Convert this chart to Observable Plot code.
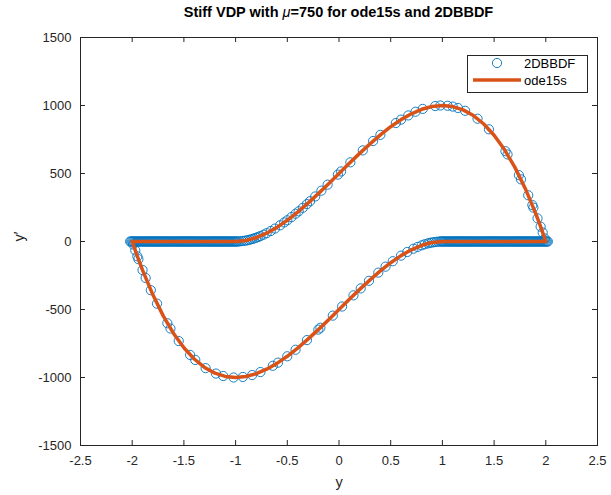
<!DOCTYPE html>
<html><head><meta charset="utf-8">
<script src="https://cdn.jsdelivr.net/npm/d3@7"></script>
<script src="https://cdn.jsdelivr.net/npm/@observablehq/plot@0.6"></script>
<style>
body{margin:0;background:#fff;}
#wrap{position:relative;width:611px;height:495px;font-family:"Liberation Sans",Arial,sans-serif;}
#title{position:absolute;left:80px;width:517px;top:4px;text-align:center;font-weight:bold;font-size:14.5px;color:#000;}
#title i{font-weight:normal;}
#legend{position:absolute;left:467px;top:55px;width:119px;height:36px;border:1px solid #262626;background:#fff;}
#legend svg{display:block;}
</style></head><body>
<div id="wrap"><div id="chart"></div>
<div id="title">Stiff VDP with <i>μ</i>=750 for ode15s and 2DBBDF</div>
<div id="legend"></div>
</div>
<script>
// tick labels
const xTicks = [-2.5,-2,-1.5,-1,-0.5,0,0.5,1,1.5,2,2.5];
const yTicks = [-1500,-1000,-500,0,500,1000,1500];
const seriesNames = ["2DBBDF","ode15s"];

// 2DBBDF markers: slow (flat) segments, y' ~ 0
const flatLeftY = [-2.02,-2.01,-2.00,-1.99,-1.98,-1.97,-1.96,-1.95,-1.94,-1.93,-1.92,-1.91,-1.90,-1.89,-1.88,-1.87,-1.86,-1.85,-1.84,-1.83,-1.82,-1.81,-1.80,-1.79,-1.78,-1.77,-1.76,-1.75,-1.74,-1.73,-1.72,-1.71,-1.70,-1.69,-1.68,-1.67,-1.66,-1.65,-1.64,-1.63,-1.62,-1.61,-1.60,-1.59,-1.58,-1.57,-1.56,-1.55,-1.54,-1.53,-1.52,-1.51,-1.50,-1.49,-1.48,-1.47,-1.46,-1.45,-1.44,-1.43,-1.42,-1.41,-1.40,-1.39,-1.38,-1.37,-1.36,-1.35,-1.34,-1.33,-1.32,-1.31,-1.30,-1.29,-1.28,-1.27,-1.26,-1.25,-1.24,-1.23,-1.22,-1.21,-1.20,-1.19,-1.18,-1.17,-1.16,-1.15,-1.14,-1.13,-1.12,-1.11,-1.10,-1.09,-1.08,-1.07,-1.06,-1.05,-1.04,-1.03,-1.02,-1.01,-1.00,-0.99];
const flatRightY = [0.99,1.00,1.01,1.02,1.03,1.04,1.05,1.06,1.07,1.08,1.09,1.10,1.11,1.12,1.13,1.14,1.15,1.16,1.17,1.18,1.19,1.20,1.21,1.22,1.23,1.24,1.25,1.26,1.27,1.28,1.29,1.30,1.31,1.32,1.33,1.34,1.35,1.36,1.37,1.38,1.39,1.40,1.41,1.42,1.43,1.44,1.45,1.46,1.47,1.48,1.49,1.50,1.51,1.52,1.53,1.54,1.55,1.56,1.57,1.58,1.59,1.60,1.61,1.62,1.63,1.64,1.65,1.66,1.67,1.68,1.69,1.70,1.71,1.72,1.73,1.74,1.75,1.76,1.77,1.78,1.79,1.80,1.81,1.82,1.83,1.84,1.85,1.86,1.87,1.88,1.89,1.90,1.91,1.92,1.93,1.94,1.95,1.96,1.97,1.98,1.99,2.00,2.01,2.02];
// 2DBBDF markers: upper fast branch
const topY  = [-0.98,-0.96,-0.94,-0.92,-0.9,-0.88,-0.86,-0.84,-0.82,-0.8,-0.78,-0.76,-0.73,-0.7,-0.66,-0.62,-0.57,-0.53,-0.5,-0.46,-0.42,-0.39,-0.35,-0.31,-0.28,-0.23,-0.17,-0.11,-0.01,0.02,0.11,0.23,0.33,0.4,0.55,0.6,0.67,0.74,0.81,0.93,0.98,1.05,1.1,1.15,1.22,1.34,1.45,1.61,1.63,1.74,1.76,1.83,1.87,1.88,1.92,1.95,1.97,1.99];
const topYp = [0,1,3,5,7,10,14,18,23,28,34,40,50,61,77,95,119,140,156,179,204,222,248,275,296,331,374,418,492,515,582,670,739,784,871,896,927,954,975,996,1000,998,992,982,961,903,825,664,640,488,457,340,268,249,170,109,66,22];
// 2DBBDF markers: lower fast branch
const botY  = [-1.99,-1.97,-1.95,-1.94,-1.9,-1.87,-1.82,-1.76,-1.66,-1.63,-1.55,-1.44,-1.39,-1.29,-1.19,-1.12,-1.02,-0.93,-0.84,-0.76,-0.64,-0.59,-0.5,-0.42,-0.31,-0.2,-0.18,-0.06,0.03,0.14,0.21,0.29,0.38,0.45,0.52,0.6,0.66,0.72,0.76,0.8,0.83,0.86,0.88,0.9,0.92,0.94,0.96,0.98];
const botYp = [-22,-66,-109,-130,-210,-268,-358,-457,-601,-640,-732,-834,-871,-931,-971,-989,-1000,-996,-982,-960,-914,-891,-844,-796,-725,-648,-634,-545,-478,-396,-345,-289,-229,-185,-145,-104,-77,-53,-40,-28,-20,-14,-10,-7,-5,-3,-1,0];

// ode15s solution, in path order
const odeY  = [2,1,0.9,0.8,0.7,0.6,0.5,0.4,0.3,0.2,0.1,0,-0.1,-0.2,-0.3,-0.4,-0.5,-0.6,-0.7,-0.8,-0.9,-1,-1.1,-1.2,-1.3,-1.4,-1.5,-1.6,-1.7,-1.8,-1.9,-1.95,-2,-1,-0.9,-0.8,-0.7,-0.6,-0.5,-0.4,-0.3,-0.2,-0.1,0,0.1,0.2,0.3,0.4,0.5,0.6,0.7,0.8,0.9,1,1.1,1.2,1.3,1.4,1.5,1.6,1.7,1.8,1.9,1.95,2];
const odeYp = [0,0,-7,-28,-61,-104,-156,-216,-282,-352,-425,-500,-575,-648,-718,-784,-844,-896,-939,-972,-993,-1000,-992,-968,-926,-864,-781,-676,-547,-392,-210,-109,0,0,7,28,61,104,156,216,282,352,425,500,575,648,718,784,844,896,939,972,993,1000,992,968,926,864,781,676,547,392,210,109,0];

const markers = [
  ...flatLeftY.map(v => ({y: v, yp: 0})),
  ...flatRightY.map(v => ({y: v, yp: 0})),
  ...topY.map((v, i) => ({y: v, yp: topYp[i]})),
  ...botY.map((v, i) => ({y: v, yp: botYp[i]}))
];
const ode = odeY.map((v, i) => ({y: v, yp: odeYp[i]}));

const W = 611, H = 495, mL = 80, mR = 14, mT = 37, mB = 50;
const pw = W - mL - mR, ph = H - mT - mB, tk = 5;
const ink = "#262626";
const fmt = d => String(d);

const chart = Plot.plot({
  width: W, height: H, marginLeft: mL, marginRight: mR, marginTop: mT, marginBottom: mB,
  style: {fontFamily: "'Liberation Sans', Arial, sans-serif", fontSize: "13px", color: ink, background: "#fff", overflow: "visible"},
  x: {domain: [-2.5, 2.5]},
  y: {domain: [-1500, 1500]},
  marks: [
    Plot.dot(markers, {x: "y", y: "yp", r: 4.6, stroke: "#0072BD", strokeWidth: 0.9, fill: "none"}),
    Plot.line(ode, {x: "y", y: "yp", stroke: "#D95319", strokeWidth: 3.5}),
    Plot.frame({stroke: ink, strokeWidth: 1}),
    Plot.ruleX(xTicks, {insetTop: ph - tk, stroke: ink}),
    Plot.ruleX(xTicks, {insetBottom: ph - tk, stroke: ink}),
    Plot.ruleY(yTicks, {insetRight: pw - tk, stroke: ink}),
    Plot.ruleY(yTicks, {insetLeft: pw - tk, stroke: ink}),
    Plot.axisX({ticks: xTicks, tickSize: 0, tickPadding: 10, tickFormat: fmt, label: null, fontSize: 13}),
    Plot.axisY({ticks: yTicks, tickSize: 0, tickPadding: 9, tickFormat: fmt, label: null, fontSize: 13}),
    Plot.text(["y"], {frameAnchor: "bottom", dy: 41, fontSize: 14.5, fill: ink}),
    Plot.text(["y′"], {frameAnchor: "left", dx: -61, rotate: -90, fontSize: 14.5, fill: ink})
  ]
});
document.getElementById("chart").appendChild(chart);

// legend
const lg = d3.select("#legend").append("svg").attr("width", 119).attr("height", 36)
  .style("font-family", "'Liberation Sans', Arial, sans-serif").style("font-size", "13px");
lg.append("circle").attr("cx", 29).attr("cy", 7).attr("r", 4.6).attr("fill", "none").attr("stroke", "#0072BD").attr("stroke-width", 0.9);
lg.append("line").attr("x1", 5).attr("x2", 53).attr("y1", 24).attr("y2", 24).attr("stroke", "#D95319").attr("stroke-width", 3.5);
lg.append("text").attr("x", 56).attr("y", 7).attr("dy", "0.35em").attr("fill", "#000").text(seriesNames[0]);
lg.append("text").attr("x", 56).attr("y", 24).attr("dy", "0.35em").attr("fill", "#000").text(seriesNames[1]);
</script>
</body></html>
